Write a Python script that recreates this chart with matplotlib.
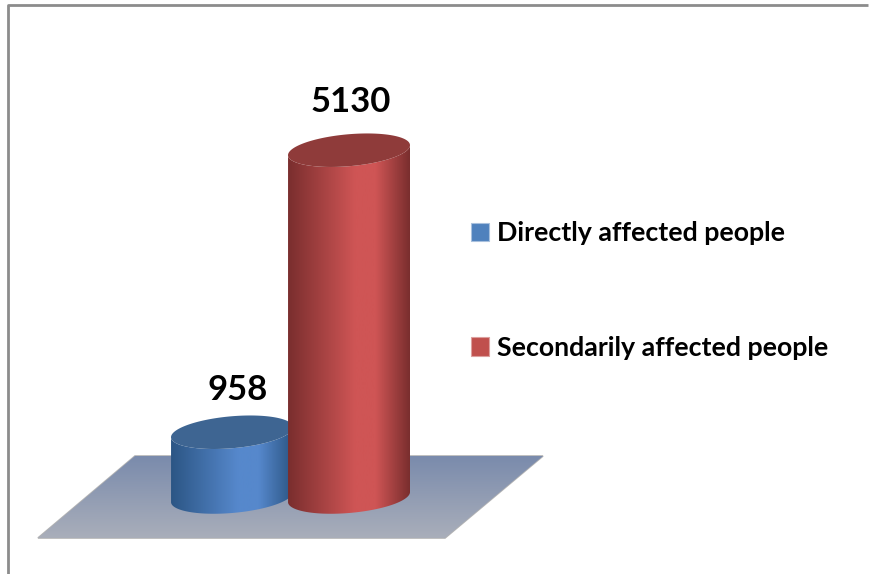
import numpy as np
import matplotlib
matplotlib.use('Agg')
import matplotlib.pyplot as plt
from matplotlib.colors import LinearSegmentedColormap
from matplotlib.patches import Patch, Polygon

categories = ['Directly affected people', 'Secondarily affected people']
values = [958, 5130]
edge_colors = ['#2c5685', '#7a2e2e']
mid_colors = ['#5688cc', '#cf5555']
top_colors = ['#3e6592', '#8f3b3a']
legend_colors = ['#4f81bd', '#c0504d']
label_up_px = [26, 32]
label_dx_px = [6, 2]

W, H = 870, 574
BASE_PX = 497          # pixel row of value 0
PX_PER_UNIT = 0.0676   # pixel rows per person
X0_PX, DX_PX = 232, 117  # pixel column of first bar, spacing

plt.rcParams['font.family'] = ['Lato', 'DejaVu Sans']

fig = plt.figure(figsize=(W / 100, H / 100), dpi=100)
ax = fig.add_axes([0, 0, 1, 1])
xlim = (-X0_PX / DX_PX, (W - X0_PX) / DX_PX)
ylim = ((BASE_PX - H) / PX_PER_UNIT, BASE_PX / PX_PER_UNIT)


def to_x(px):
    return (px - X0_PX) / DX_PX


def to_y(py):
    return (BASE_PX - py) / PX_PER_UNIT


# frame lines
ax.plot([to_x(8), to_x(8), to_x(868)], [to_y(574), to_y(5), to_y(5)],
        color='#8c8c8c', lw=2, zorder=1, solid_capstyle='butt')

# floor
floor = Polygon([(to_x(38), to_y(538)), (to_x(445), to_y(538)),
                 (to_x(543), to_y(456)), (to_x(135), to_y(456))],
                closed=True, fc='none', ec='#b4b4b4', lw=1.2, zorder=2)
ax.add_patch(floor)
floor_cmap = LinearSegmentedColormap.from_list('floor', ['#7a8bac', '#a9aeba'])
im = ax.imshow(np.linspace(0, 1, 100).reshape(-1, 1), cmap=floor_cmap, aspect='auto',
               extent=(to_x(38), to_x(543), to_y(538), to_y(456)), zorder=2)
im.set_clip_path(floor)

half_w = 61 / DX_PX
minor = 16 / PX_PER_UNIT
tilt = 5 / PX_PER_UNIT
t = np.linspace(0, 2 * np.pi, 181)


def ellipse(cx, cy):
    return cx + half_w * np.cos(t), cy + minor * np.sin(t) + tilt * np.cos(t)


for i, val in enumerate(values):
    cx = float(i)
    ex_b, ey_b = ellipse(cx, 0)
    ex_t, ey_t = ellipse(cx, val)
    # body outline: lower half of the base, then lower half of the top
    low = np.sin(t) <= 0
    order = np.argsort(ex_b[low])
    xs = np.r_[ex_b[low][order], ex_t[low][order][::-1]]
    ys = np.r_[ey_b[low][order], ey_t[low][order][::-1]]
    body = Polygon(np.c_[xs, ys], closed=True, fc='none', ec='none', zorder=3 + i)
    ax.add_patch(body)
    cmap = LinearSegmentedColormap.from_list(
        'side', [(0, edge_colors[i]), (0.55, mid_colors[i]),
                 (0.72, mid_colors[i]), (1, edge_colors[i])])
    im = ax.imshow(np.linspace(0, 1, 200).reshape(1, -1), cmap=cmap, aspect='auto',
                   extent=(cx - half_w, cx + half_w, ylim[0], ylim[1]), zorder=3 + i)
    im.set_clip_path(body)
    ax.fill(ex_t, ey_t, color=top_colors[i], lw=0, zorder=3 + i)
    ax.text(cx + label_dx_px[i] / DX_PX, val + label_up_px[i] / PX_PER_UNIT, str(val),
            ha='center', va='bottom', fontsize=25, fontweight='bold', color='black', zorder=6)

handles = [Patch(fc=c, ec='#a8c0dd' if i == 0 else '#dca09e', lw=0.8)
           for i, c in enumerate(legend_colors)]
ax.legend(handles, categories, loc='upper left', bbox_to_anchor=(471 / W, 1 - 221 / H),
          frameon=False, prop={'size': 19.25, 'weight': 'bold'}, handlelength=0.67,
          handleheight=0.67, handletextpad=0.3, labelspacing=3.4, borderaxespad=0,
          borderpad=0)

ax.set_xlim(xlim)
ax.set_ylim(ylim)
ax.axis('off')
fig.savefig('out.png', dpi=100)
